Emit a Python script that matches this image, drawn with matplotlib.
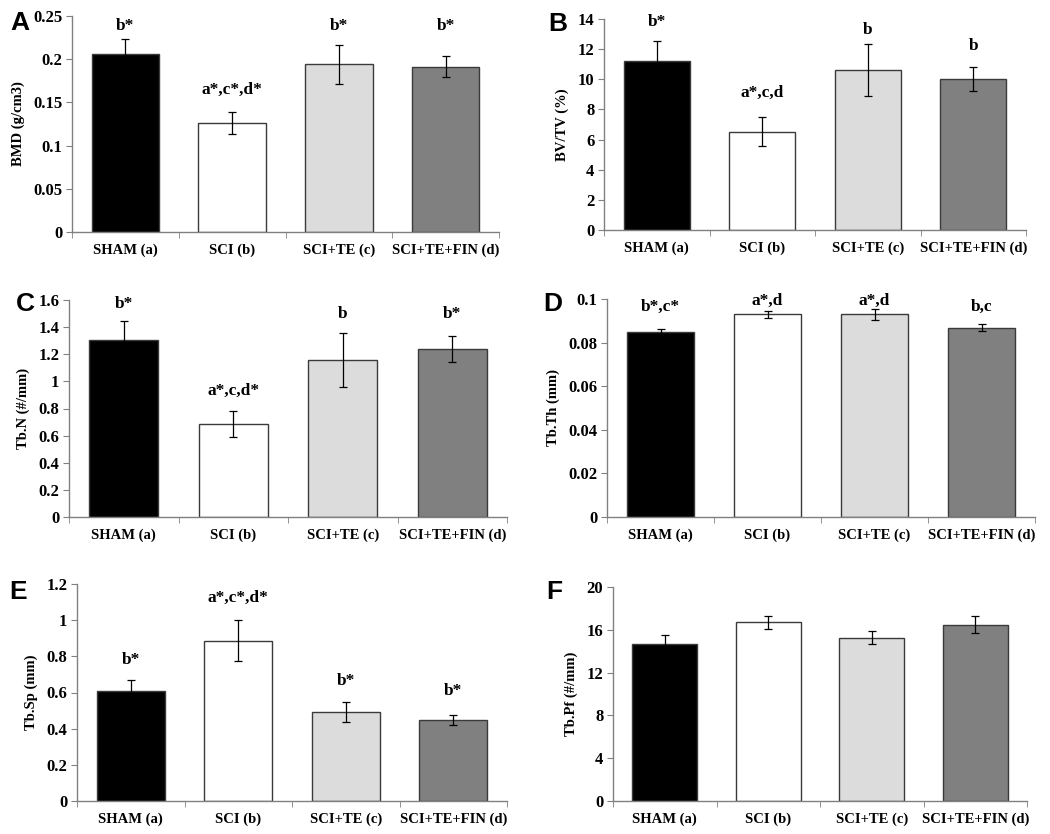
import numpy as np
import matplotlib
matplotlib.use('Agg')
import matplotlib.pyplot as plt

groups = ["SHAM (a)", "SCI (b)", "SCI+TE (c)", "SCI+TE+FIN (d)"]
bar_colors = ["#000000", "#ffffff", "#dcdcdc", "#808080"]

# panel data: mean, error (sd/se)
bmd = [0.2065, 0.1265, 0.194, 0.1915]
bmd_err = [0.017, 0.0125, 0.0225, 0.0125]
bvtv = [11.24, 6.53, 10.62, 10.02]
bvtv_err = [1.33, 0.97, 1.7, 0.77]
tbn = [1.307, 0.686, 1.16, 1.239]
tbn_err = [0.14, 0.095, 0.2, 0.097]
tbth = [0.0847, 0.093, 0.093, 0.0868]
tbth_err = [0.0014, 0.0017, 0.0025, 0.0017]
tbsp = [0.611, 0.887, 0.49, 0.449]
tbsp_err = [0.059, 0.114, 0.055, 0.027]
tbpf = [14.69, 16.69, 15.28, 16.47]
tbpf_err = [0.87, 0.64, 0.57, 0.78]

# significance letters and the height they sit at
sig_A = ["b*", "a*,c*,d*", "b*", "b*"]
sig_A_y = [0.239, 0.164, 0.239, 0.239]
sig_B = ["b*", "a*,c,d", "b", "b"]
sig_B_y = [13.8, 9.07, 13.3, 12.23]
sig_C = ["b*", "a*,c,d*", "b", "b*"]
sig_C_y = [1.57, 0.929, 1.50, 1.494]
sig_D = ["b*,c*", "a*,d", "a*,d", "b,c"]
sig_D_y = [0.0963, 0.0992, 0.0992, 0.0963]
sig_E = ["b*", "a*,c*,d*", "b*", "b*"]
sig_E_y = [0.780, 1.126, 0.661, 0.607]

W, H = 1050, 834
fig = plt.figure(figsize=(W / 100, H / 100), dpi=100)

serif = "Liberation Serif"

# (letter, values, errors, ylabel, yticks, ticklabels, sig, sig_y, box px l r t b, letter pos px)
panels = [
    ("A", bmd, bmd_err, "BMD (g/cm3)", [0, 0.05, 0.1, 0.15, 0.2, 0.25],
     ["0", "0.05", "0.1", "0.15", "0.2", "0.25"], sig_A, sig_A_y,
     (72, 499, 16, 232), (20, 23)),
    ("B", bvtv, bvtv_err, "BV/TV (%)", [0, 2, 4, 6, 8, 10, 12, 14],
     None, sig_B, sig_B_y, (604, 1026, 19, 230), (558, 24)),
    ("C", tbn, tbn_err, "Tb.N (#/mm)", [0, 0.2, 0.4, 0.6, 0.8, 1.0, 1.2, 1.4, 1.6],
     ["0", "0.2", "0.4", "0.6", "0.8", "1", "1.2", "1.4", "1.6"], sig_C, sig_C_y,
     (69, 507, 300, 517), (25, 304)),
    ("D", tbth, tbth_err, "Tb.Th (mm)", [0, 0.02, 0.04, 0.06, 0.08, 0.1],
     ["0", "0.02", "0.04", "0.06", "0.08", "0.1"], sig_D, sig_D_y,
     (607, 1035, 299, 517), (553, 304)),
    ("E", tbsp, tbsp_err, "Tb.Sp (mm)", [0, 0.2, 0.4, 0.6, 0.8, 1.0, 1.2],
     ["0", "0.2", "0.4", "0.6", "0.8", "1", "1.2"], sig_E, sig_E_y,
     (77, 507, 584, 801), (18, 592)),
    ("F", tbpf, tbpf_err, "Tb.Pf (#/mm)", [0, 4, 8, 12, 16, 20],
     None, None, None, (613, 1027, 587, 801), (554, 592)),
]

x = np.arange(len(groups))
for letter, vals, errs, ylab, yt, ytl, sig, sig_y, box, lpos in panels:
    l, r, t, b = box
    ax = fig.add_axes([l / W, 1 - b / H, (r - l) / W, (b - t) / H])
    ax.bar(x, vals, width=0.63, color=bar_colors, edgecolor="#3a3a3a", linewidth=1.0, zorder=2)
    ax.errorbar(x, vals, yerr=errs, fmt="none", ecolor="black", elinewidth=0.9,
                capsize=3, capthick=0.9, zorder=3)
    ax.set_xlim(-0.5, len(groups) - 0.5)
    ax.set_ylim(0, yt[-1])
    ax.set_yticks(yt)
    if ytl is not None:
        ax.set_yticklabels(ytl)
    ax.set_xticks(x)
    ax.set_xticklabels(groups)
    ax.set_xticks(np.arange(len(groups) + 1) - 0.5, minor=True)
    ax.tick_params(axis="x", which="major", length=0, pad=8)
    ax.tick_params(axis="x", which="minor", length=4, color="#808080", direction="out")
    ax.tick_params(axis="y", length=4, color="#808080", direction="out", pad=3)
    for lab in ax.get_xticklabels():
        lab.set_fontfamily(serif)
        lab.set_fontweight("bold")
        lab.set_fontsize(10.5)
    for lab in ax.get_yticklabels():
        lab.set_fontfamily(serif)
        lab.set_fontweight("bold")
        lab.set_fontsize(12)
    for s in ["top", "right"]:
        ax.spines[s].set_visible(False)
    for s in ["left", "bottom"]:
        ax.spines[s].set_color("#808080")
        ax.spines[s].set_linewidth(1.0)
    ax.set_ylabel(ylab, fontfamily=serif, fontweight="bold", fontsize=10.5, labelpad=6)
    if sig is not None:
        for xi, s_txt, sy in zip(x, sig, sig_y):
            ax.text(xi, sy, s_txt, ha="center", va="center", fontfamily=serif,
                    fontweight="bold", fontsize=12.5, clip_on=False)
    fig.text(lpos[0] / W, 1 - lpos[1] / H, letter, ha="center", va="center",
             fontfamily="Liberation Sans", fontweight="bold", fontsize=19)

fig.savefig("out.png", dpi=100, facecolor="white")
